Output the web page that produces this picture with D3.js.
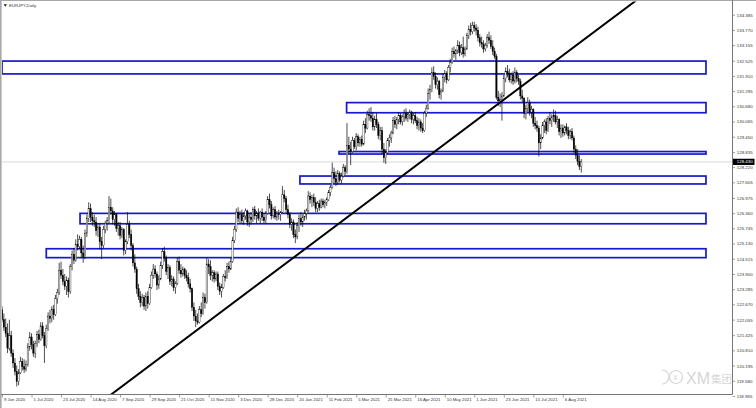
<!DOCTYPE html>
<html><head><meta charset="utf-8">
<script src="https://cdn.jsdelivr.net/npm/d3@7"></script>
<style>html,body{margin:0;padding:0;background:#fff;} svg{display:block;}</style>
</head><body>
<svg id="c" width="756" height="408"></svg>
<script>
const symbolTitle = "EURJPY,Daily";
const xTickLabels = ["9 Jun 2020","1 Jul 2020","23 Jul 2020","14 Aug 2020","7 Sep 2020","29 Sep 2020","21 Oct 2020","11 Nov 2020","3 Dec 2020","28 Dec 2020","20 Jan 2021","11 Feb 2021","5 Mar 2021","25 Mar 2021","16 Apr 2021","10 May 2021","1 Jun 2021","23 Jun 2021","15 Jul 2021","6 Aug 2021"];
const xTickStep = 16; // bars between date labels
const yTickValues = [134.385,133.770,133.155,132.525,131.910,131.295,130.680,130.065,129.450,128.835,128.220,127.605,126.975,126.360,125.745,125.130,124.515,123.900,123.285,122.670,122.055,121.425,120.810,120.195,119.580,118.965];
const currentPrice = 128.430;
// daily candles [open, high, low, close], one per trading day from 9 Jun 2020
const ohlc = [
[122.45,122.60,121.95,122.05],[122.05,122.30,121.60,121.75],[121.75,122.10,121.35,121.50],[121.50,121.90,120.70,120.90],[120.90,122.05,120.80,121.40],
[121.40,121.60,120.55,120.70],[120.70,120.85,120.10,120.30],[120.30,120.50,119.80,119.95],[119.95,120.20,119.35,119.55],[119.55,120.05,119.40,119.90],
[119.90,120.55,119.85,120.35],[120.35,120.50,120.00,120.15],[120.15,120.45,119.90,120.05],[120.05,120.40,119.95,120.25],[120.25,121.10,120.15,120.95],
[120.95,121.55,120.80,121.35],[121.35,121.50,120.85,121.05],[121.05,121.20,120.55,120.70],[120.70,121.20,120.50,121.10],[121.10,121.60,120.95,121.45],
[121.45,121.65,121.10,121.25],[121.25,121.95,121.20,121.80],[121.80,121.95,121.30,121.40],[121.40,121.55,120.30,121.00],[121.00,121.85,120.90,121.70],
[121.70,122.35,121.60,122.20],[122.20,122.45,121.90,122.10],[122.10,122.60,121.95,122.45],[122.45,122.65,122.05,122.25],[122.25,123.05,122.20,122.90],
[122.90,123.30,122.70,123.15],[123.15,124.35,123.05,124.05],[124.05,124.40,123.70,123.85],[123.85,124.10,123.45,123.60],[123.60,123.90,123.25,123.40],
[123.40,123.80,123.05,123.65],[123.65,123.75,122.95,123.20],[123.20,124.30,123.10,124.20],[124.20,124.85,124.05,124.70],[124.70,124.95,124.30,124.45],
[124.45,125.30,124.40,125.10],[125.10,125.50,124.85,125.00],[125.00,125.45,124.90,125.30],[125.30,125.40,124.55,124.75],[124.75,125.05,124.35,124.60],
[124.60,125.70,124.50,125.55],[125.55,126.30,125.40,126.15],[126.15,126.80,126.00,126.55],[126.55,126.75,126.00,126.20],[126.20,126.40,125.85,126.05],
[126.05,126.30,125.80,126.00],[126.00,126.20,125.45,125.65],[125.65,125.90,125.40,125.80],[125.80,125.95,124.90,125.20],[125.20,125.40,124.50,125.05],
[125.05,125.85,124.95,125.70],[125.70,126.05,125.55,125.95],[125.95,126.20,125.65,126.05],[126.05,127.05,125.95,126.60],[126.60,126.95,126.30,126.45],
[126.45,126.60,125.90,126.10],[126.10,126.45,125.85,126.30],[126.30,126.35,125.60,125.75],[125.75,126.00,125.45,125.85],[125.85,126.00,125.30,125.45],
[125.45,125.80,125.35,125.70],[125.70,125.75,124.65,124.85],[124.85,125.30,124.70,125.20],[125.20,126.40,125.10,125.90],[125.90,126.05,125.35,125.50],
[125.50,125.70,124.85,125.05],[125.05,125.15,124.20,124.35],[124.35,124.70,123.95,124.10],[124.10,124.20,123.10,123.30],[123.30,123.50,122.85,123.00],
[123.00,123.20,122.55,122.75],[122.75,123.10,122.60,122.95],[122.95,123.05,122.45,122.60],[122.60,123.15,122.40,123.00],[123.00,123.20,122.50,122.70],
[122.70,123.50,122.65,123.35],[123.35,124.00,123.30,123.85],[123.85,124.30,123.70,124.10],[124.10,124.25,123.75,123.90],[123.90,124.00,123.25,123.45],
[123.45,123.85,123.30,123.70],[123.70,124.40,123.65,124.25],[124.25,124.95,124.10,124.80],[124.80,125.00,124.40,124.55],[124.55,124.65,123.85,124.00],
[124.00,124.30,123.70,124.15],[124.15,124.25,123.45,123.60],[123.60,123.85,123.40,123.70],[123.70,123.80,123.20,123.35],[123.35,123.60,123.10,123.50],
[123.50,124.55,123.45,124.40],[124.40,124.60,123.90,124.05],[124.05,124.30,123.75,123.90],[123.90,124.20,123.80,124.10],[124.10,124.15,123.70,123.85],
[123.85,124.05,123.60,123.75],[123.75,123.95,123.35,123.50],[123.50,123.70,123.15,123.30],[123.30,123.35,122.40,122.55],[122.55,122.75,122.00,122.20],
[122.20,122.45,121.75,122.00],[122.00,122.30,121.85,121.95],[121.95,122.60,121.90,122.45],[122.45,122.75,122.15,122.30],[122.30,123.15,122.25,122.95],
[122.95,123.10,122.50,122.75],[122.75,124.55,122.70,124.30],[124.30,124.50,123.90,124.20],[124.20,124.45,123.65,123.85],[123.85,124.05,123.60,123.95],
[123.95,124.05,123.55,123.70],[123.70,124.00,123.60,123.90],[123.90,124.00,123.25,123.40],[123.40,123.55,123.05,123.20],[123.20,123.50,122.95,123.35],
[123.35,123.90,123.30,123.80],[123.80,124.05,123.60,123.75],[123.75,124.35,123.70,124.20],[124.20,124.40,123.95,124.10],[124.10,124.55,124.05,124.40],
[124.40,125.40,124.35,125.25],[125.25,125.85,125.15,125.70],[125.70,126.55,125.60,126.40],[126.40,126.60,126.00,126.15],[126.15,126.45,125.95,126.30],
[126.30,126.50,125.95,126.05],[126.05,126.40,125.90,126.25],[126.25,126.55,126.10,126.45],[126.45,126.50,125.85,126.00],[126.00,126.35,125.80,126.20],
[126.20,126.40,125.90,126.10],[126.10,126.60,126.00,126.50],[126.50,126.65,126.10,126.25],[126.25,126.45,125.95,126.35],[126.35,126.55,126.05,126.15],
[126.15,126.45,125.95,126.40],[126.40,126.55,126.05,126.20],[126.20,126.35,125.95,126.05],[126.05,126.45,125.95,126.35],[126.35,127.05,126.30,126.90],
[126.90,127.15,126.55,126.70],[126.70,126.85,126.10,126.25],[126.25,126.60,126.15,126.50],[126.50,126.65,126.10,126.20],[126.20,126.45,126.05,126.35],
[126.35,126.50,126.10,126.30],[126.30,126.45,126.05,126.40],[126.40,127.45,126.35,127.10],[127.10,127.30,126.80,126.95],[126.95,127.05,126.35,126.50],
[126.50,126.70,126.15,126.30],[126.30,126.40,125.75,125.90],[125.90,126.15,125.65,126.00],[126.00,126.10,125.35,125.50],[125.50,125.70,125.15,125.40],
[125.40,126.00,125.30,125.85],[125.85,126.30,125.60,126.15],[126.15,126.40,125.85,126.00],[126.00,126.30,125.80,126.20],[126.20,126.50,126.05,126.35],
[126.35,126.55,126.10,126.45],[126.45,127.25,126.40,127.05],[127.05,127.20,126.75,126.90],[126.90,127.10,126.60,127.00],[127.00,127.15,126.65,126.80],
[126.80,127.00,126.40,126.55],[126.55,126.85,126.40,126.75],[126.75,126.90,126.45,126.60],[126.60,126.95,126.55,126.85],[126.85,126.95,126.60,126.70],
[126.70,126.90,126.55,126.80],[126.80,127.00,126.65,126.90],[126.90,127.30,126.85,127.20],[127.20,127.50,127.05,127.40],[127.40,128.40,127.35,128.00],
[128.00,128.20,127.55,127.75],[127.75,128.05,127.45,127.60],[127.60,128.10,127.50,127.95],[127.95,128.05,127.60,127.70],[127.70,128.00,127.55,127.85],
[127.85,128.35,127.80,128.20],[128.20,128.30,127.90,128.05],[128.05,130.00,127.95,129.10],[129.10,129.45,128.75,128.95],[128.95,129.25,128.30,128.85],
[128.85,129.45,128.80,129.30],[129.30,129.40,128.95,129.05],[129.05,129.60,128.90,129.45],[129.45,129.55,129.05,129.20],[129.20,129.45,129.05,129.35],
[129.35,129.50,129.05,129.15],[129.15,130.10,129.10,129.95],[129.95,130.20,129.60,129.80],[129.80,130.50,129.75,130.35],[130.35,130.60,130.10,130.30],
[130.30,130.65,130.05,130.20],[130.20,130.45,129.70,129.85],[129.85,130.30,129.70,130.15],[130.15,130.40,129.80,129.95],[129.95,130.05,129.35,129.50],
[129.50,129.85,129.30,129.70],[129.70,129.85,128.75,128.95],[128.95,129.20,128.40,128.60],[128.60,128.95,128.35,128.80],[128.80,129.40,128.75,129.30],
[129.30,129.55,129.05,129.40],[129.40,129.70,129.20,129.60],[129.60,130.25,129.55,130.10],[130.10,130.30,129.80,129.95],[129.95,130.25,129.75,130.15],
[130.15,130.45,129.95,130.30],[130.30,130.40,129.95,130.05],[130.05,130.35,129.90,130.25],[130.25,130.55,130.05,130.40],[130.40,130.60,130.10,130.20],
[130.20,130.45,130.05,130.35],[130.35,130.55,130.15,130.45],[130.45,130.50,130.00,130.15],[130.15,130.40,129.95,130.30],[130.30,130.45,130.00,130.10],
[130.10,130.25,129.75,129.90],[129.90,130.20,129.70,130.05],[130.05,130.15,129.65,129.80],[129.80,130.00,129.60,129.70],[129.70,130.50,129.65,130.40],
[130.40,130.75,130.25,130.60],[130.60,131.40,130.55,131.20],[131.20,131.55,130.95,131.35],[131.35,132.25,131.25,132.05],[132.05,132.30,131.75,131.90],
[131.90,132.05,131.40,131.55],[131.55,131.85,131.35,131.70],[131.70,131.75,131.00,131.15],[131.15,131.40,130.95,131.30],[131.30,132.00,131.25,131.85],
[131.85,132.15,131.65,132.00],[132.00,132.10,131.60,131.75],[131.75,132.35,131.70,132.25],[132.25,132.60,132.05,132.45],[132.45,133.05,132.40,132.90],
[132.90,133.10,132.65,132.80],[132.80,133.00,132.55,132.95],[132.95,133.35,132.80,133.15],[133.15,133.30,132.70,132.85],[132.85,133.20,132.75,133.05],
[133.05,133.50,132.65,132.80],[132.80,133.10,132.70,133.00],[133.00,133.65,132.95,133.55],[133.55,133.95,133.40,133.80],[133.80,134.05,133.55,133.70],
[133.70,134.10,133.60,133.95],[133.95,134.10,133.70,133.85],[133.85,134.00,133.55,133.75],[133.75,133.90,133.30,133.45],[133.45,133.60,133.10,133.25],
[133.25,133.50,133.05,133.20],[133.20,133.35,132.85,133.00],[133.00,133.25,132.90,133.15],[133.15,133.60,133.05,133.45],[133.45,133.70,133.20,133.35],
[133.35,133.55,133.00,133.10],[133.10,133.35,132.75,132.90],[132.90,133.05,132.60,132.70],[132.70,132.80,130.95,131.05],[131.05,131.30,130.70,130.90],
[130.90,131.20,130.65,130.95],[130.95,131.25,130.10,131.10],[131.10,131.95,131.05,131.80],[131.80,132.25,131.65,132.10],[132.10,132.35,131.85,132.00],
[132.00,132.20,131.65,131.75],[131.75,132.05,131.60,131.95],[131.95,132.10,131.55,131.70],[131.70,132.25,131.60,132.05],[132.05,132.15,131.65,131.80],
[131.80,131.95,131.55,131.70],[131.70,131.80,130.95,131.10],[131.10,131.35,130.85,131.00],[131.00,131.05,130.20,130.40],[130.40,130.75,130.15,130.60],
[130.60,131.05,130.45,130.85],[130.85,130.95,130.30,130.45],[130.45,130.70,130.20,130.55],[130.55,130.60,129.85,130.00],[130.00,130.25,129.75,129.90],
[129.90,130.10,129.65,129.80],[129.80,129.90,128.65,129.20],[129.20,129.55,128.95,129.40],[129.40,130.05,129.35,129.90],[129.90,130.15,129.60,130.05],
[130.05,130.20,129.55,129.70],[129.70,130.30,129.65,130.20],[130.20,130.45,129.95,130.10],[130.10,130.35,129.85,130.25],[130.25,130.55,130.05,130.30],
[130.30,130.50,129.95,130.05],[130.05,130.30,129.80,130.15],[130.15,130.20,129.50,129.65],[129.65,129.95,129.40,129.80],[129.80,129.95,129.45,129.60],
[129.60,129.90,129.50,129.85],[129.85,130.00,129.55,129.70],[129.70,129.85,129.35,129.50],[129.50,129.75,129.35,129.65],[129.65,129.80,129.30,129.40],
[129.40,129.50,128.80,128.95],[128.95,129.10,128.55,128.70],[128.70,128.95,128.30,128.45],[128.45,128.70,128.10,128.25],[128.25,128.55,128.00,128.43]
];
// support / resistance boxes
const zoneStart = [0, 186.8, 182.7, 161.5, 42.3, 24.0];
const zoneEnd   = [381.6, 381.6, 381.6, 381.6, 381.6, 381.6];
const zoneUpper = [132.51, 130.83, 128.85, 127.86, 126.35, 124.92];
const zoneLower = [131.99, 130.42, 128.75, 127.54, 125.93, 124.56];
// trendline anchors [bar, price]
const trendAnchors = [[56.4, 118.87], [318.7, 133.56]];

const plot = {l: 2, r: 732.5, t: 1.5, b: 394.5};
const x = d3.scaleLinear().domain([0, 395.7]).range([2, 732]);
const y = d3.scaleLinear().domain([118.965, 134.385]).range([396, 14.7]);
const FONT = "'Liberation Sans', Arial, sans-serif";

const svg = d3.select('#c');
svg.append('rect').attr('width', 756).attr('height', 408).attr('fill', '#fff');
svg.append('defs').append('clipPath').attr('id', 'clip').append('rect')
  .attr('x', plot.l).attr('y', plot.t).attr('width', plot.r - plot.l).attr('height', plot.b - plot.t);

// window border
svg.append('line').attr('x1', 0).attr('x2', 756).attr('y1', 0.5).attr('y2', 0.5).attr('stroke', '#a8a8a8').attr('stroke-width', 1);
svg.append('line').attr('x1', 0.8).attr('x2', 0.8).attr('y1', 0).attr('y2', 408).attr('stroke', '#a8a8a8').attr('stroke-width', 1.6);

// watermark (behind the chart)
const WM = '#d6d6d6';
const wm = svg.append('g').attr('fill', 'none').attr('stroke', WM).attr('stroke-width', 1.2);
wm.append('path').attr('d', 'M662,370 A7,7 0 1,1 662,384');
wm.append('circle').attr('cx', 676).attr('cy', 377).attr('r', 6.5);
svg.append('text').attr('x', 673.3).attr('y', 380.3).attr('font-family', FONT).attr('font-size', 8.5).attr('fill', WM).text('x');
svg.append('text').attr('x', 686).attr('y', 384).attr('font-family', FONT).attr('font-size', 16).attr('font-weight', 300)
  .attr('fill', WM).text('XM');
svg.append('text').attr('x', 711).attr('y', 383).attr('font-family', "'Noto Sans CJK SC', sans-serif").attr('font-size', 10.5)
  .attr('fill', WM).text('集团');

const g = svg.append('g').attr('clip-path', 'url(#clip)');

// current price line
g.append('line').attr('x1', plot.l).attr('x2', plot.r)
  .attr('y1', y(currentPrice)).attr('y2', y(currentPrice))
  .attr('stroke', '#cfcfcf').attr('stroke-width', 0.8);

// zones
g.append('g').selectAll('rect').data(zoneStart).join('rect')
  .attr('x', (d) => x(d))
  .attr('width', (d, i) => x(zoneEnd[i]) - x(d))
  .attr('y', (d, i) => y(zoneUpper[i]))
  .attr('height', (d, i) => y(zoneLower[i]) - y(zoneUpper[i]))
  .attr('fill', 'none').attr('stroke', '#1818c8').attr('stroke-width', 1.7);

// candles
const cg = g.append('g').selectAll('g').data(ohlc).join('g');
cg.append('line')
  .attr('x1', (d, i) => x(i)).attr('x2', (d, i) => x(i))
  .attr('y1', d => y(d[1])).attr('y2', d => y(d[2]))
  .attr('stroke', '#000').attr('stroke-width', 0.7);
cg.append('rect')
  .attr('x', (d, i) => x(i) - 0.7).attr('width', 1.4)
  .attr('y', d => y(Math.max(d[0], d[3])))
  .attr('height', d => Math.max(0.5, Math.abs(y(d[0]) - y(d[3]))))
  .attr('fill', d => d[3] >= d[0] ? '#fff' : '#000')
  .attr('stroke', '#000').attr('stroke-width', 0.35);

// trendline (extended through the plot)
const [a, b] = trendAnchors;
const slope = (b[1] - a[1]) / (b[0] - a[0]);
g.append('line')
  .attr('x1', x(0)).attr('y1', y(a[1] + slope * (0 - a[0])))
  .attr('x2', x(400)).attr('y2', y(a[1] + slope * (400 - a[0])))
  .attr('stroke', '#000').attr('stroke-width', 2);

// axes lines
svg.append('line').attr('x1', plot.r).attr('x2', plot.r).attr('y1', 0).attr('y2', plot.b)
  .attr('stroke', '#777').attr('stroke-width', 1);
svg.append('line').attr('x1', 1).attr('x2', plot.r).attr('y1', plot.b).attr('y2', plot.b)
  .attr('stroke', '#777').attr('stroke-width', 1);

// y axis
const yAxis = d3.axisRight(y).tickValues(yTickValues).tickSize(2.5).tickPadding(1.8)
  .tickFormat(d3.format('.3f'));
const ya = svg.append('g').attr('transform', `translate(${plot.r},0)`).call(yAxis);
ya.select('.domain').remove();
ya.selectAll('line').attr('stroke', '#777').attr('stroke-width', 0.7);
ya.selectAll('text').attr('font-family', FONT).attr('font-size', 4.4).attr('fill', '#333');

// x axis
const xTickIdx = xTickLabels.map((d, i) => i * xTickStep);
const xAxis = d3.axisBottom(x).tickValues(xTickIdx).tickSize(3).tickSizeOuter(0)
  .tickFormat((d, i) => xTickLabels[i]);
const xa = svg.append('g').attr('transform', `translate(0,${plot.b})`).call(xAxis);
xa.select('.domain').remove();
xa.selectAll('line').attr('stroke', '#777').attr('stroke-width', 0.7);
xa.selectAll('text').attr('font-family', FONT).attr('font-size', 4.3).attr('fill', '#333')
  .attr('text-anchor', 'start').attr('x', 1.5).attr('y', 3).attr('dy', '0.75em');

// current price box
const cy = y(currentPrice);
svg.append('rect').attr('x', plot.r + 0.5).attr('y', cy - 3.2).attr('width', 21.5).attr('height', 6.2).attr('fill', '#000');
svg.append('text').attr('x', plot.r + 4.3).attr('y', cy).attr('dy', '0.34em')
  .attr('font-family', FONT).attr('font-size', 4.4).attr('fill', '#fff').text(d3.format('.3f')(currentPrice));

// title
svg.append('path').attr('d', 'M3.6,4.2 L7,4.2 L5.3,6.8 Z').attr('fill', '#222');
svg.append('text').attr('x', 9).attr('y', 7.3).attr('font-family', FONT).attr('font-size', 4.3)
  .attr('fill', '#333').text(symbolTitle);
</script>
</body></html>
